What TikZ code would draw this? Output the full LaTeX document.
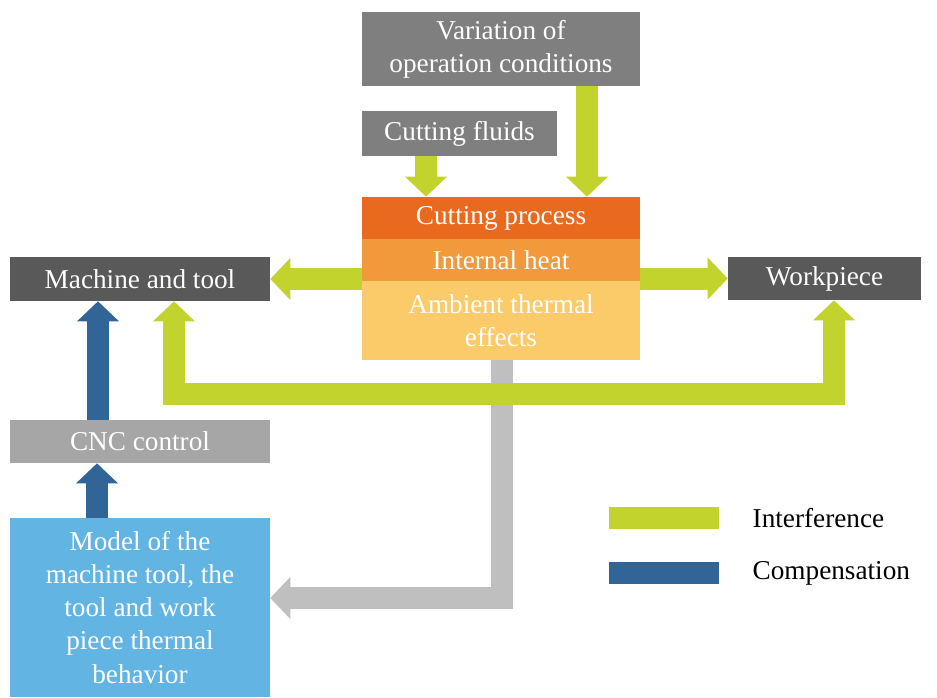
\documentclass[tikz,border=0pt]{standalone}
\usepackage{fontspec}
\setmainfont{Liberation Serif}
\usetikzlibrary{arrows.meta, positioning, calc}

\definecolor{boxgray}{HTML}{7F7F7F}
\definecolor{boxdark}{HTML}{595959}
\definecolor{boxlight}{HTML}{A6A6A6}
\definecolor{cutorange}{HTML}{E96A1F}
\definecolor{heatorange}{HTML}{F1993B}
\definecolor{ambyellow}{HTML}{FBCB69}
\definecolor{modelblue}{HTML}{62B4E2}
\definecolor{interf}{HTML}{C3D32E}
\definecolor{compens}{HTML}{316597}
\definecolor{feedgray}{HTML}{BFBFBF}

\tikzset{
  box/.style={fill=#1, text=white, inner sep=0pt, align=center,
    font=\fontsize{15.5}{18.8}\selectfont},
  flow/.style={draw=#1, line width=0.44cm, line join=miter,
    -{Triangle[width=0.84cm, length=0.4cm, line width=0pt]}},
  twoway/.style={flow=#1,
    {Triangle[width=0.84cm, length=0.4cm, line width=0pt]}-{Triangle[width=0.84cm, length=0.4cm, line width=0pt]}},
  keytext/.style={inner sep=0pt, anchor=west, font=\fontsize{15.5}{18.8}\selectfont}
}

\begin{document}
\begin{tikzpicture}[x=0.02cm, y=-0.02cm]
  \useasboundingbox (0,0) rectangle (937,697);

  % Disturbance sources
  \node[box=boxgray, minimum width=5.56cm, minimum height=1.48cm] (var) at (501,49)
    {Variation of\\operation conditions};
  \node[box=boxgray, minimum width=3.9cm, minimum height=0.9cm] (fluids) at (459.5,133.5)
    {Cutting fluids};

  % Heat sources, stacked
  \node[box=cutorange, minimum width=5.56cm, minimum height=0.84cm] (cut) at (501,218)
    {Cutting process};
  \node[box=heatorange, minimum width=5.56cm, minimum height=0.84cm] (heat) at (501,260)
    {Internal heat};
  \node[box=ambyellow, minimum width=5.56cm, minimum height=1.58cm] (amb) at (501,320.5)
    {Ambient thermal\\effects};

  % Affected parts and control chain
  \node[box=boxdark, minimum width=5.2cm, minimum height=0.88cm] (mt) at (140,279)
    {Machine and tool};
  \node[box=boxdark, minimum width=3.86cm, minimum height=0.86cm] (wp) at (824.5,278.5)
    {Workpiece};
  \node[box=boxlight, minimum width=5.2cm, minimum height=0.86cm] (cnc) at (140,441.5)
    {CNC control};
  \node[box=modelblue, minimum width=5.2cm, minimum height=3.58cm] (model) at (140,607.5)
    {Model of the\\machine tool, the\\tool and work\\piece thermal\\behavior};

  % Feedback from the heat sources to the model
  \draw[flow=feedgray] (amb.south -| 502,0) |- (model.east |- 0,598);

  % Interference
  \draw[flow=interf] (fluids.south -| 426,0) -- (cut.north -| 426,0);
  \draw[flow=interf] (var.south -| 587,0) -- (cut.north -| 587,0);
  \draw[flow=interf] (mt.east -| heat.west) -- (mt.east);
  \draw[flow=interf] (wp.west -| heat.east) -- (wp.west);
  \draw[twoway=interf] (mt.south -| 174,0) -- (174,394) -| (wp.south -| 834,0);

  % Compensation
  \draw[flow=compens] (cnc.north -| 98,0) -- (mt.south -| 98,0);
  \draw[flow=compens] (model.north -| 97,0) -- (cnc.south -| 97,0);

  % Legend
  \node[fill=interf, inner sep=0pt, minimum width=2.2cm, minimum height=0.44cm] (keyint) at (664,518) {};
  \node[keytext, right=0.66cm of keyint.east] (lblint) {Interference};
  \node[fill=compens, inner sep=0pt, minimum width=2.2cm, minimum height=0.44cm] (keycomp) at (664,573) {};
  \node[keytext, right=0.66cm of keycomp.east] (lblcomp) {Compensation};
\end{tikzpicture}
\end{document}
